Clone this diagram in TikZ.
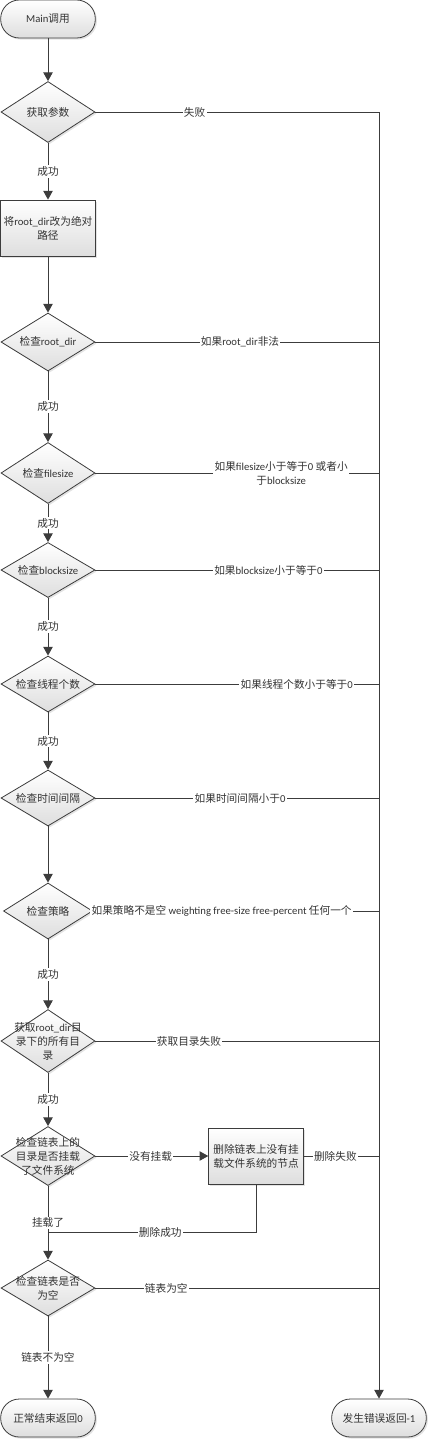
\documentclass[tikz,border=0pt]{standalone}
\usepackage{fontspec}
\setmainfont{Carlito}
\newfontfamily\zhfont{Noto Sans CJK SC}
\newfontfamily\latinfont{Carlito}
\usetikzlibrary{shapes.geometric,arrows.meta,shadows}
% han characters get the CJK font, the rest Carlito
\XeTeXinterchartokenstate=1
\newXeTeXintercharclass\zhclass
\newcount\zhcnt
\zhcnt="4E00
\loop\ifnum\zhcnt<"A000
  \XeTeXcharclass\zhcnt=\zhclass
  \advance\zhcnt by 1
\repeat
\XeTeXinterchartoks 0 \zhclass = {\zhfont}
\XeTeXinterchartoks 4095 \zhclass = {\zhfont}
\XeTeXinterchartoks \zhclass 0 = {\latinfont}
\XeTeXinterchartoks 4095 0 = {\latinfont}
\definecolor{edge}{HTML}{3C3C3C}
\tikzset{
  every node/.style={font=\fontsize{8}{10.5}\selectfont, text=black!80},
  shape base/.style={draw=edge, line width=0.6pt, top color=white, bottom color=black!13,
    drop shadow={shadow xshift=1.2pt, shadow yshift=-1.2pt, fill=black!22}},
  term/.style={shape base, rectangle, rounded corners=14pt, minimum width=71pt, minimum height=28.5pt},
  proc/.style={shape base, rectangle, minimum width=71pt, minimum height=42pt, align=center, inner sep=1pt},
  decide/.style={shape base, diamond, inner sep=0pt, minimum width=70.5pt, minimum height=43pt},
  dtext/.style={align=center, inner sep=0pt},
  line/.style={draw=edge, line width=0.7pt},
  arr/.style={line, -{Triangle[length=6.5pt,width=7pt]}},
  lbl/.style={fill=white, inner sep=1pt, align=center},
}
\begin{document}
\begin{tikzpicture}[x=0.75pt,y=-0.75pt]
\useasboundingbox (0,0) rectangle (429,1439);
% main column
\node[term] (start) at (48,19) {Main调用};
\node[decide, minimum height=45.75pt, label={[dtext]center:获取参数}] (d1) at (48,112) {};
\node[proc] (p1) at (48,228) {将root\_dir改为绝对\\路径};
\node[decide, minimum height=43.5pt, label={[dtext]center:检查root\_dir}] (d2) at (48,342) {};
\node[decide, minimum height=45.75pt, label={[dtext]center:检查filesize}] (d3) at (48,473) {};
\node[decide, minimum height=41.25pt, label={[dtext]center:检查blocksize}] (d4) at (48,570) {};
\node[decide, minimum height=42pt, label={[dtext]center:检查线程个数}] (d5) at (48,684) {};
\node[decide, minimum height=42pt, label={[dtext]center:检查时间间隔}] (d6) at (48,798) {};
\node[decide, minimum height=42pt, minimum width=66.75pt, label={[dtext]center:检查策略}] (d7) at (48,911) {};
\node[decide, minimum height=47.25pt, label={[dtext]center:{获取root\_dir目\\录下的所有目\\录}}] (d8) at (48,1041) {};
\node[decide, minimum height=44.25pt, label={[dtext]center:{检查链表上的\\目录是否挂载\\了文件系统}}] (d9) at (48,1156) {};
\node[proc] (p2) at (256,1156) {删除链表上没有挂\\载文件系统的节点};
\coordinate (jn) at (48,1232);
\node[decide, minimum height=42pt, label={[dtext]center:{检查链表是否\\为空}}] (d10) at (48,1288) {};
\node[term] (ok) at (48,1418) {正常结束返回0};
\node[term] (err) at (379,1418) {发生错误返回-1};

\draw[arr] (start) -- (d1);
\draw[arr] (p1) -- (d2);
\draw[arr] (d6) -- (d7);
\foreach \a/\b in {d1/p1,d2/d3,d3/d4,d4/d5,d5/d6,d7/d8,d8/d9}
  \draw[arr] (\a) -- node[lbl]{成功} (\b);

% failures all run into the right column
\draw[arr] (d1.east) -- node[lbl,pos=.35]{失败} (d1.east -| err) -- (err);
\foreach \d/\p/\t in {d2/.51/{如果root\_dir非法},
    d3/.655/{如果filesize小于等于0 或者小\\于blocksize},
    d4/.61/{如果blocksize小于等于0},
    d5/.71/{如果线程个数小于等于0},
    d6/.51/{如果时间间隔小于0},
    d7/.45/{如果策略不是空 weighting free-size free-percent 任何一个},
    d8/.33/{获取目录失败},
    d10/.25/{链表为空}}
  \draw[line] (\d.east) -- node[lbl,pos=\p]{\t} (\d.east -| err);

\draw[arr] (d9.east) -- node[lbl,pos=.49]{没有挂载} (p2.west);
\draw[line] (p2.east) -- node[lbl,pos=.42]{删除失败} (p2.east -| err);
\draw[line] (d9) -- node[lbl,pos=.8]{挂载了} (jn);
\draw[line] (p2) |- node[lbl,pos=.73]{删除成功} (jn);
\draw[arr] (jn) -- (d10);
\draw[arr] (d10) -- node[lbl]{链表不为空} (ok);
\end{tikzpicture}
\end{document}
